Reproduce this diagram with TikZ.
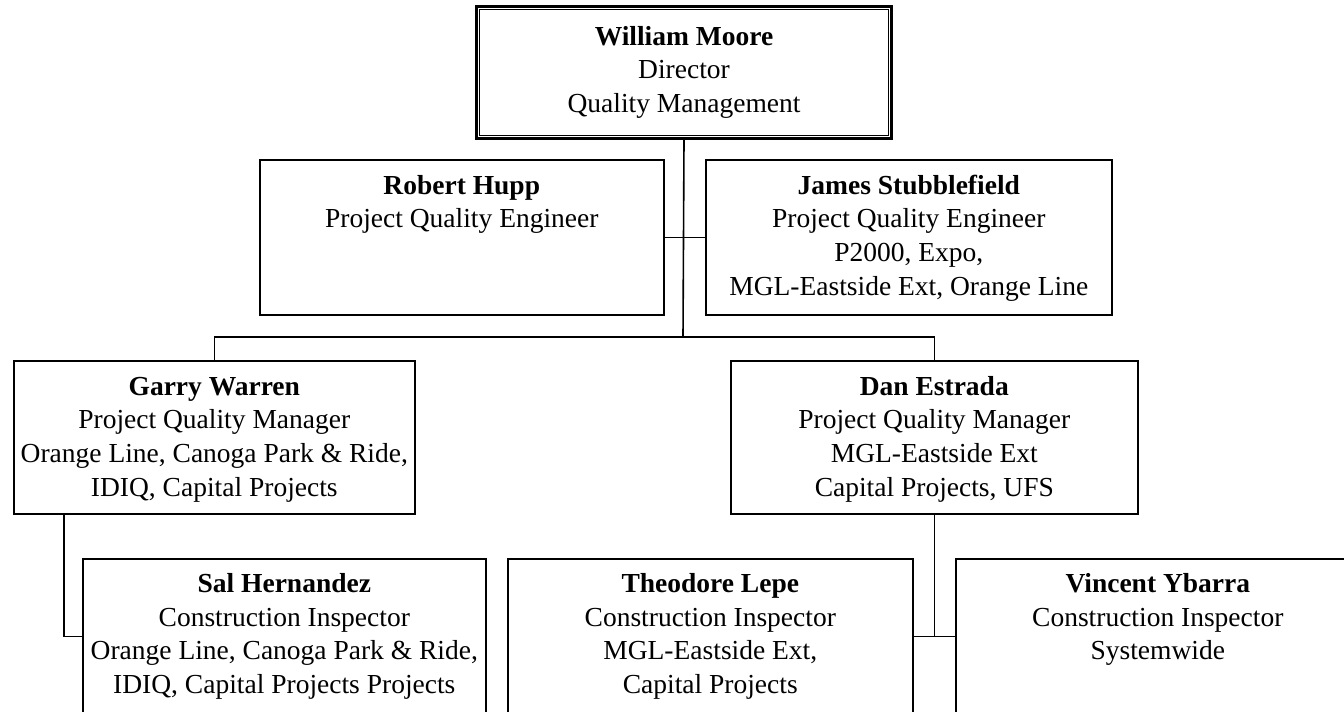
\documentclass[tikz,border=0pt]{standalone}
\usepackage{fontspec}
\setmainfont{Liberation Serif}
\begin{document}
\begin{tikzpicture}[x=1pt,y=1pt,
  box/.style={draw, line width=1.6pt, inner sep=0pt, anchor=north west, minimum height=155pt},
  txt/.style={anchor=north, inner sep=0pt, align=center, font=\fontsize{27.5}{33.6}\selectfont},
  conn/.style={line width=1.6pt}]
\useasboundingbox (0,0) rectangle (1344,-712);
\fill[white] (0,0) rectangle (1344,-712);

% Director
\node[draw, line width=3pt, inner sep=0pt, anchor=north west, minimum width=415pt, minimum height=132pt] (moore) at (475,-5) {};
\draw[line width=1.3pt] ([shift={(4.8pt,-4.8pt)}]moore.north west) rectangle ([shift={(-4.8pt,4.8pt)}]moore.south east);
\node[txt] (mooretxt) at ([yshift=-16.5pt]moore.north) {\strut\textbf{William Moore}\\Director\\Quality Management};

% Engineers
\node[box, minimum width=404pt] (hupp) at (259,-159) {};
\node[txt] (hupptxt) at ([yshift=-11.5pt]hupp.north) {\strut\textbf{Robert Hupp}\\Project Quality Engineer};
\node[box, minimum width=406pt] (james) at (705,-159) {};
\node[txt] (jamestxt) at ([yshift=-11.5pt]james.north) {\strut\textbf{James Stubblefield}\\Project Quality Engineer\\P2000, Expo,\\MGL-Eastside Ext, Orange Line};

% Managers
\node[box, minimum width=401pt, minimum height=153pt] (garry) at (13,-360) {};
\node[txt] (garrytxt) at ([yshift=-11.5pt]garry.north) {\strut\textbf{Garry Warren}\\Project Quality Manager\\Orange Line, Canoga Park \& Ride,\\IDIQ, Capital Projects};
\node[box, minimum width=407pt, minimum height=153pt] (dan) at (730,-360) {};
\node[txt] (dantxt) at ([yshift=-11.5pt]dan.north) {\strut\textbf{Dan Estrada}\\Project Quality Manager\\MGL-Eastside Ext\\Capital Projects, UFS};

% Inspectors
\node[box, minimum width=403pt] (sal) at (82,-558) {};
\node[txt] (saltxt) at ([yshift=-11pt]sal.north) {\strut\textbf{Sal Hernandez}\\Construction Inspector\\Orange Line, Canoga Park \& Ride,\\IDIQ, Capital Projects Projects};
\node[box, minimum width=405pt] (theo) at (507,-558) {};
\node[txt] (theotxt) at ([yshift=-11pt]theo.north) {\strut\textbf{Theodore Lepe}\\Construction Inspector\\MGL-Eastside Ext,\\Capital Projects};
\node[box, minimum width=404pt] (vinc) at (955,-558) {};
\node[txt] (vinctxt) at ([yshift=-11pt]vinc.north) {\strut\textbf{Vincent Ybarra}\\Construction Inspector\\Systemwide};

% Connectors
\coordinate (bus) at (683,-337);
\draw[conn] (moore.south) -- (bus);
\draw[conn] (hupp.east) -- (james.west);
\draw[conn] (garry.north) |- (bus) -| (dan.north);
\draw[conn] ([xshift=-150.5pt]garry.south) |- (sal.west);
\draw[conn] (dan.south) -- (dan.south |- theo.east);
\draw[conn] (theo.east) -- (vinc.west);
\end{tikzpicture}
\end{document}
